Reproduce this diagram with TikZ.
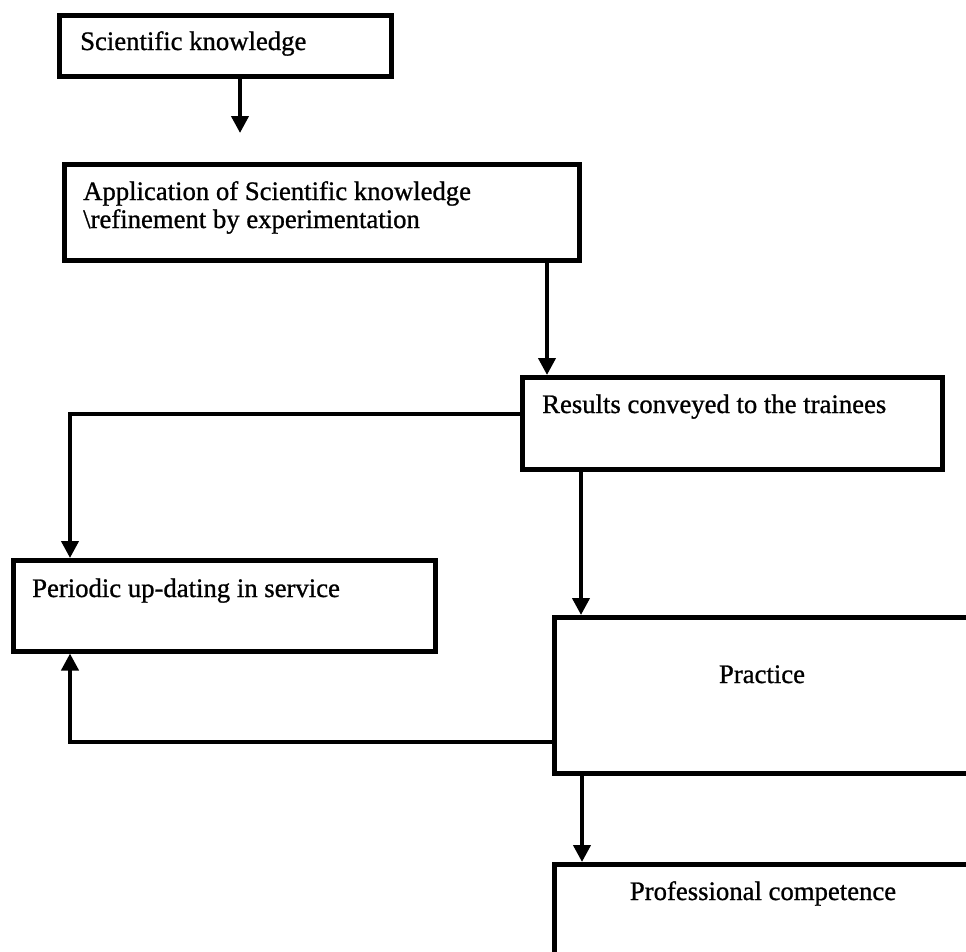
\documentclass[tikz,border=0pt]{standalone}
\usepackage{fontspec}
\setmainfont{Liberation Serif}[FakeBold=0.9]
\usetikzlibrary{arrows.meta}
\tikzset{
  flowbox/.style={draw, line width=4.5pt, rectangle, inner sep=0pt, anchor=north west},
  boxtext/.style={inner sep=0pt, font=\fontsize{26.7}{29.5}\selectfont},
  link/.style={line width=4pt},
  arr/.style={link, -{Triangle[length=17pt,width=17pt]}}
}
\begin{document}
\begin{tikzpicture}[x=1pt,y=-1pt]
  \useasboundingbox (0,0) rectangle (966,951);
  \clip (0,0) rectangle (966,951);
  \fill[white] (0,0) rectangle (966,951);

  % boxes
  \node[flowbox, minimum width=332pt, minimum height=61pt] (b1) at (57,13) {};
  \node[flowbox, minimum width=515pt, minimum height=96pt] (b2) at (62,162) {};
  \node[flowbox, minimum width=420pt, minimum height=92pt] (b3) at (520,375) {};
  \node[flowbox, minimum width=422pt, minimum height=91pt] (b4) at (11,558) {};
  \node[flowbox, minimum width=460pt, minimum height=156pt] (b5) at (552,615) {};
  \node[flowbox, minimum width=460pt, minimum height=160pt] (b6) at (552,862) {};

  % texts
  \node[boxtext, anchor=base west] (t1) at (80,50) {Scientific knowledge};
  \node[boxtext, anchor=base west] (t2a) at (83,200) {Application of Scientific knowledge};
  \node[boxtext, anchor=base west] (t2b) at (83,228) {\textbackslash refinement by experimentation};
  \node[boxtext, anchor=base west] (t3) at (542,413) {Results conveyed to the trainees};
  \node[boxtext, anchor=base west] (t4) at (32,597) {Periodic up-dating in service};
  \node[boxtext, anchor=base] (t5) at (762,683) {Practice};
  \node[boxtext, anchor=base] (t6) at (763,900) {Professional competence};

  % reference coordinates for connector routes
  \coordinate (xa) at (240,0);
  \coordinate (xb) at (547,0);
  \coordinate (xc) at (581,0);
  \coordinate (xd) at (582,0);
  \coordinate (xl) at (70,0);
  \coordinate (yr) at (0,414);
  \coordinate (yp) at (0,742);
  \coordinate (a1end) at (240,133);

  % connectors
  \draw[arr] (b1.south -| xa) -- (a1end);
  \draw[arr] (b2.south -| xb) -- (b3.north -| xb);
  \draw[arr] (b3.west |- yr) -- (xl |- yr) -- (b4.north -| xl);
  \draw[arr] (b3.south -| xc) -- (b5.north -| xc);
  \draw[arr] (b5.west |- yp) -- (xl |- yp) -- (b4.south -| xl);
  \draw[arr] (b5.south -| xd) -- (b6.north -| xd);
\end{tikzpicture}
\end{document}
